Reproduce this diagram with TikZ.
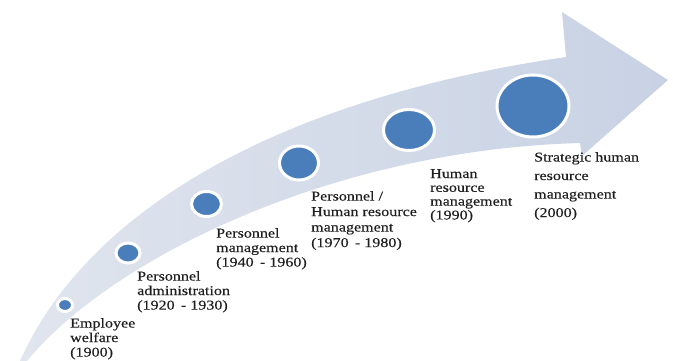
\documentclass[tikz,border=0pt]{standalone}
\usepackage{fontspec}
\setmainfont{Liberation Serif}[FakeStretch=1.19,FakeBold=0.35]
\usetikzlibrary{shapes.geometric}
\definecolor{dotblue}{RGB}{74,126,187}
\definecolor{arrowgray}{RGB}{200,210,228}
\definecolor{tailgray}{RGB}{224,229,238}

\begin{document}
\begin{tikzpicture}[x=1pt,y=-1pt,
  dot/.style={ellipse,draw=white,line width=3pt,fill=dotblue,inner sep=0pt},
  lbl/.style={anchor=north west,inner sep=0pt,align=left,text=black!88,font=\fontsize{13.5}{14.5}\selectfont}]
\useasboundingbox (0,0) rectangle (673,361);

\shade[left color=tailgray,right color=arrowgray]
  (20,361) .. controls (85,215) and (270,100) .. (566,57) -- (562,12) -- (668,80)
  -- (582,156) -- (580,143) .. controls (330,150) and (110,260) .. (27,361) -- cycle;

\foreach \n/\x/\y/\w/\h in {1/65/305/15/13, 2/128/253/24/20, 3/206.5/204/30/25,
                            4/299/163/39/34, 5/409/130/51/41, 6/533/106/72/62}
   \node [dot,minimum width=\w pt,minimum height=\h pt] (c\n) at (\x,\y) {};

\node [lbl] (t1) at (70,318) {Employee\\welfare\\(1900)};
\node [lbl] (t2) at (137,271) {Personnel\\administration\\(1920 \,- 1930)};
\node [lbl] (t3) at (216,228) {Personnel\\management\\(1940 \,- 1960)};
\node [lbl,font=\fontsize{13.5}{15.5}\selectfont] (t4) at (311,191) {Personnel /\\Human resource\\management\\(1970 \,- 1980)};
\node [lbl,font=\fontsize{13.5}{13.8}\selectfont] (t5) at (430,169) {Human\\resource\\management\\(1990)};
\node [lbl,font=\fontsize{13.5}{18.5}\selectfont] (t6) at (534,152) {Strategic human\\resource\\management\\(2000)};
\end{tikzpicture}
\end{document}
